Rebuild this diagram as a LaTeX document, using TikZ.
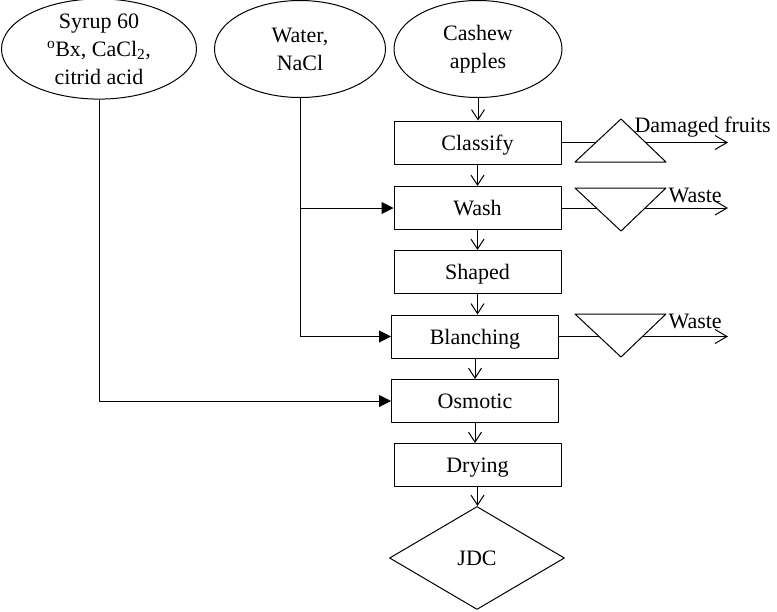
\documentclass[tikz,border=0pt]{standalone}
\usepackage{fontspec}
\setmainfont{Liberation Serif}
\usetikzlibrary{arrows.meta, calc, shapes.geometric, positioning}

\tikzset{
	feed/.style={ellipse, draw, align=center, inner sep=0pt, minimum height=97pt},
	stepbox/.style={rectangle, draw, minimum width=167pt, minimum height=43pt, inner sep=0pt,
		text height=15pt, text depth=0pt},
	flow/.style={-{Straight Barb[length=10pt,width=13pt]}},
	feedarrow/.style={-{Triangle[length=12pt,width=12pt]}},
	outarrow/.style={-{Straight Barb[length=12pt,width=14pt]}},
	sieve/.style={draw, fill=white},
}

\begin{document}
\begin{tikzpicture}[x=1pt, y=-1pt, line width=1pt, line join=round, font=\fontsize{22}{28}\selectfont]
		\useasboundingbox (0,0) rectangle (777,611);
		
		%========================
		% inputs
		%========================
		\node[feed, minimum width=195pt] (syrup) at (99,49)
			{Syrup 60\\\textsuperscript{o}Bx, CaCl\textsubscript{2},\\citrid acid};
		\node[feed, minimum width=171pt] (water) at (300,49) {Water,\\NaCl};
		\node[feed, minimum width=168pt] (cashew) at (478,49) {Cashew\\apples};
		
		%========================
		% process steps
		%========================
		\node[stepbox] (classify) at (477.5,142.5) {Classify};
		\node[stepbox] (wash) at (477.5,208) {Wash};
		\node[stepbox] (shaped) at (477.5,272) {Shaped};
		\node[stepbox] (blanching) at (475,336.5) {Blanching};
		\node[stepbox] (osmotic) at (475,401) {Osmotic};
		\node[stepbox] (drying) at (477.5,465) {Drying};
		\node[diamond, draw, minimum width=175pt, minimum height=103pt, inner sep=0pt] (jdc) at (477,558) {JDC};
		
		% main line
		\foreach \a/\b in {cashew/classify, classify/wash, wash/shaped, shaped/blanching,
			blanching/osmotic, osmotic/drying, drying/jdc}
			\draw[flow] (\a.south) -- (\a.south |- \b.north);
		
		% feeds from the left
		\draw[feedarrow] (syrup.south) |- (osmotic.west);
		\draw[feedarrow] (water.south) |- (blanching.west);
		\draw[feedarrow] (water.south |- wash.west) -- (wash.west);
		
		%========================
		% outputs on the right
		%========================
		\coordinate (dmgend) at (728,142.5);
		\draw[outarrow] (classify.east) -- (dmgend);
		\draw[sieve] (575,162) -- (621,119) -- (666,162) -- cycle;
		\node[anchor=base west, inner sep=0pt] (dmgtxt) at (634,132) {Damaged fruits};
		
		\foreach \src/\ytop in {wash/188, blanching/314} {
			\coordinate (\src end) at (728,0 |- \src.east);
			\draw[outarrow] (\src.east) -- (\src end);
			\draw[sieve] (575,\ytop) -- (666,\ytop) -- (621,\ytop+43) -- cycle;
			\node[anchor=base west, inner sep=0pt] (\src txt) at (668,\ytop+14) {Waste};
		}
		
	\end{tikzpicture}
\end{document}
